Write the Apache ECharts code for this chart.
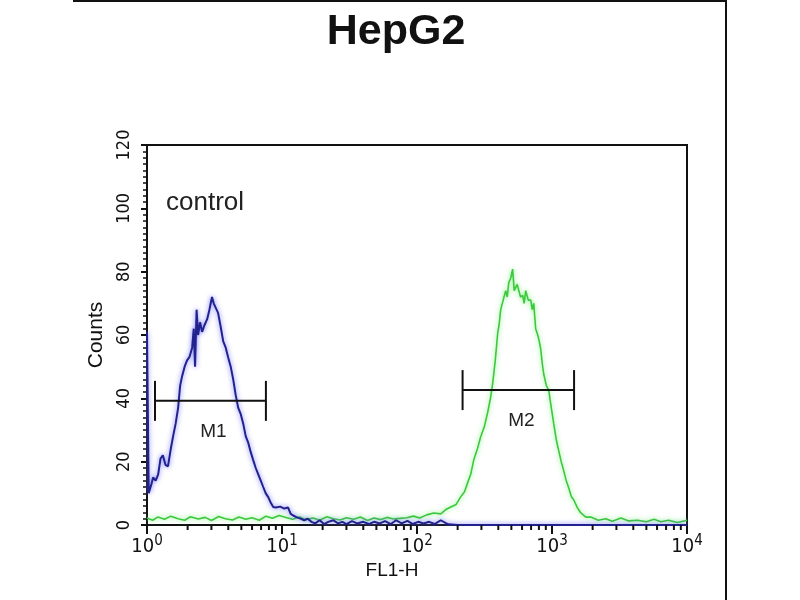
<!DOCTYPE html>
<html>
<head>
<meta charset="utf-8">
<script src="https://cdn.jsdelivr.net/npm/echarts@6/dist/echarts.min.js"></script>
<style>html,body{margin:0;padding:0;background:#fff;}#c{width:800px;height:600px;}</style>
</head>
<body>
<div id="c"></div>
<script>
// ---- data ----
var titleText = 'HepG2';
var sampleLabel = 'control';
var xAxisName = 'FL1-H';
var yAxisName = 'Counts';

var controlX = [1, 1.03, 1.08, 1.11, 1.16, 1.21, 1.26, 1.31, 1.37, 1.43, 1.5, 1.56, 1.63, 1.7, 1.76, 1.82, 1.9, 1.98, 2.06, 2.16, 2.22, 2.27, 2.33, 2.39, 2.47, 2.56, 2.66, 2.79, 2.9, 3.03, 3.12, 3.2, 3.36, 3.5, 3.67, 3.83, 3.99, 4.17, 4.35, 4.54, 4.74, 4.95, 5.16, 5.39, 5.62, 5.87, 6.12, 6.39, 6.67, 6.96, 7.26, 7.58, 7.91, 8.26, 8.61, 9.0, 9.7, 10.4, 11.1, 11.6, 12.1, 12.8, 13.7, 14.6, 15.5, 16.5, 17.6, 19, 20.5, 22, 24, 26, 28, 30, 33, 36, 40, 44, 48, 53, 58, 64, 70, 77, 85, 93, 102, 112, 123, 135, 150, 170, 200, 400, 1000, 3000, 10000];
var controlY = [61, 10, 13, 15, 14, 16, 21, 22, 19, 18.5, 24, 28, 32, 37, 44, 47, 50, 52, 53, 56, 62, 50, 68, 60, 64, 61, 63, 65, 68, 72, 70, 70, 67, 63, 58, 56, 53, 50, 46, 41, 37, 35, 32, 28, 26, 23, 20.5, 18, 16, 14, 12, 10, 8.8, 7, 5.7, 5.5, 5.8, 5.2, 5.5, 3.5, 3, 2.5, 2, 1.5, 2, 1, 0.5, 1.5, 0.3, 1, 1.5, 0.5, 1, 0.3, 1.2, 0.5, 1, 0.3, 1, 0.5, 1.2, 0.3, 1.5, 0.5, 1.3, 0.3, 1, 0.5, 1, 0.3, 1.5, 0.2, 0, 0, 0, 0, 0];

var sampleX = [1, 1.1, 1.2, 1.35, 1.5, 1.7, 1.9, 2.1, 2.4, 2.7, 3, 3.4, 3.8, 4.3, 4.8, 5.4, 6, 6.8, 7.6, 8.5, 9.5, 10.7, 12, 13.5, 15, 17, 19, 21.5, 24, 27, 30, 34, 38, 43, 48, 54, 60, 67, 75, 84, 94, 105, 118, 133, 150, 165, 178, 195, 210, 225, 237, 250, 263, 280, 296, 315, 334, 350, 363, 380, 396, 405, 417, 435, 454, 466, 478, 495, 511, 525, 538, 552, 567, 585, 607, 622, 639, 667, 696, 714, 732, 757, 784, 805, 825, 847, 869, 908, 946, 988, 1030, 1075, 1122, 1170, 1222, 1275, 1331, 1390, 1450, 1540, 1635, 1780, 1940, 2200, 2500, 2800, 3240, 3700, 4300, 5000, 5700, 6400, 7300, 8500, 10000];
var sampleY = [2.2, 1.5, 2.5, 1.8, 2.8, 2, 1.5, 2.6, 1.9, 2.4, 1.4, 2.7, 2, 1.6, 2.5, 1.8, 2.3, 1.5, 2.8, 2.1, 3, 2.4, 1.8, 2.5, 1.7, 2.2, 1.5, 2.6, 2, 1.6, 2.3, 1.8, 2.5, 1.4, 2.2, 1.7, 2.4, 1.9, 2.1, 2.3, 2.8, 2.2, 3.2, 3.8, 3.5, 5, 5.7, 6.5, 8.8, 10.5, 13.3, 16, 20.5, 24, 27.8, 31, 35.6, 40, 44.5, 52, 60.6, 63, 68, 71, 74, 72, 76.5, 78, 80.8, 74, 73.5, 76, 76.5, 72, 72.5, 70, 74, 71, 71, 68, 70, 62, 60, 58, 55.5, 51, 47.6, 44, 42.6, 37, 32, 27, 23.4, 20, 17.1, 14, 11.7, 9, 7.9, 5.5, 3.8, 2.5, 2.5, 1.5, 2, 1.2, 2.2, 1.3, 1.5, 1, 1.8, 1, 1.5, 0.8, 1.5];

var gateNames = ['M1', 'M2'];
var gateStart = [1.146, 217.6];
var gateEnd = [7.6, 1457];
var gateLevel = [39.2, 42.6];

var minorTickValues = [2, 3, 4, 5, 6, 7, 8, 9, 20, 30, 40, 50, 60, 70, 80, 90, 200, 300, 400, 500, 600, 700, 800, 900, 2000, 3000, 4000, 5000, 6000, 7000, 8000, 9000];

// ---- build ----
function zip(xs, ys) { return xs.map(function (x, i) { return [x, ys[i]]; }); }
var gateData = gateNames.map(function (n, i) { return [gateStart[i], gateEnd[i], gateLevel[i], n]; });

var narrow = "'Liberation Sans Narrow', 'DejaVu Sans Condensed', 'Liberation Sans', sans-serif";
var regular = "'Liberation Sans', Arial, sans-serif";

var chart = echarts.init(document.getElementById('c'), null, { renderer: 'canvas' });
chart.setOption({
  animation: false,
  backgroundColor: '#fff',
  title: {
    text: titleText,
    left: 391,
    textAlign: 'center',
    top: 6,
    textStyle: { fontFamily: regular, fontWeight: 'bold', fontSize: 43, color: '#111' }
  },
  graphic: [
    { type: 'line', shape: { x1: 73, y1: 1, x2: 726, y2: 1 }, style: { stroke: '#111', lineWidth: 2 } },
    { type: 'line', shape: { x1: 726, y1: 0, x2: 726, y2: 600 }, style: { stroke: '#111', lineWidth: 2 } },
    { type: 'text', left: 166, top: 190, style: { text: sampleLabel, fontFamily: regular, fontSize: 26, fill: '#222' } }
  ],
  grid: { left: 147, right: 113, top: 145, bottom: 75, show: true, borderColor: '#111', borderWidth: 2, backgroundColor: 'transparent' },
  xAxis: {
    type: 'log', logBase: 10, min: 1, max: 10000,
    name: xAxisName, nameLocation: 'middle', nameGap: 31,
    nameTextStyle: { fontFamily: regular, fontSize: 19, color: '#111', padding: [0, 50, 0, 0] },
    axisLine: { lineStyle: { color: '#111', width: 2 } },
    axisTick: { length: 9, lineStyle: { color: '#111', width: 2 } },
    minorTick: { show: false },
    splitLine: { show: false },
    axisLabel: {
      margin: 9,
      formatter: function (v) { return '{b|10}{s|' + Math.round(Math.log10(v)) + '}'; },
      rich: {
        b: { fontFamily: narrow, fontSize: 20, color: '#111' },
        s: { fontFamily: narrow, fontSize: 15, color: '#111', verticalAlign: 'bottom', padding: [0, 0, 10, 0] }
      }
    }
  },
  yAxis: {
    type: 'value', min: 0, max: 120, interval: 20,
    name: yAxisName, nameLocation: 'middle', nameGap: 38,
    nameTextStyle: { fontFamily: regular, fontSize: 21, color: '#111', padding: [0, 0, 0, 0] },
    axisLine: { show: true, lineStyle: { color: '#111', width: 2 } },
    axisTick: { show: true, length: 6, lineStyle: { color: '#111', width: 2 } },
    minorTick: { show: true, splitNumber: 10, length: 4, lineStyle: { color: '#111', width: 1.5 } },
    splitLine: { show: false },
    axisLabel: { rotate: 90, margin: 14, fontFamily: narrow, fontSize: 18, color: '#111' }
  },
  series: [
    {
      type: 'line', name: 'sample', data: zip(sampleX, sampleY), symbol: 'none', z: 3,
      lineStyle: { color: '#3cc83c', width: 1.6, shadowColor: 'rgba(110,240,110,0.9)', shadowBlur: 5 }
    },
    {
      type: 'line', name: 'control', data: zip(controlX, controlY), symbol: 'none', z: 4,
      lineStyle: { color: '#22228e', width: 2, shadowColor: 'rgba(100,100,255,0.9)', shadowBlur: 5 }
    },
    {
      type: 'custom', name: 'minorTicks', z: 5, silent: true,
      data: minorTickValues.map(function (v) { return [v, 0]; }),
      renderItem: function (params, api) {
        var p = api.coord([api.value(0), 0]);
        return { type: 'line', shape: { x1: p[0], y1: p[1], x2: p[0], y2: p[1] + 5 }, style: { stroke: '#111', lineWidth: 2 } };
      }
    },
    {
      type: 'custom', name: 'gates', z: 6, silent: true,
      data: gateData,
      renderItem: function (params, api) {
        var a = api.coord([api.value(0), api.value(2)]);
        var b = api.coord([api.value(1), api.value(2)]);
        var st = { stroke: '#111', lineWidth: 2 };
        return {
          type: 'group',
          children: [
            { type: 'line', shape: { x1: a[0], y1: a[1], x2: b[0], y2: b[1] }, style: st },
            { type: 'line', shape: { x1: a[0], y1: a[1] - 20, x2: a[0], y2: a[1] + 20 }, style: st },
            { type: 'line', shape: { x1: b[0], y1: b[1] - 20, x2: b[0], y2: b[1] + 20 }, style: st },
            { type: 'text', x: (a[0] + b[0]) / 2 + 3, y: a[1] + 31, style: { text: gateData[params.dataIndex][3], fontFamily: regular, fontSize: 19, fill: '#222', align: 'center', verticalAlign: 'middle' } }
          ]
        };
      }
    }
  ]
});
</script>
</body>
</html>
